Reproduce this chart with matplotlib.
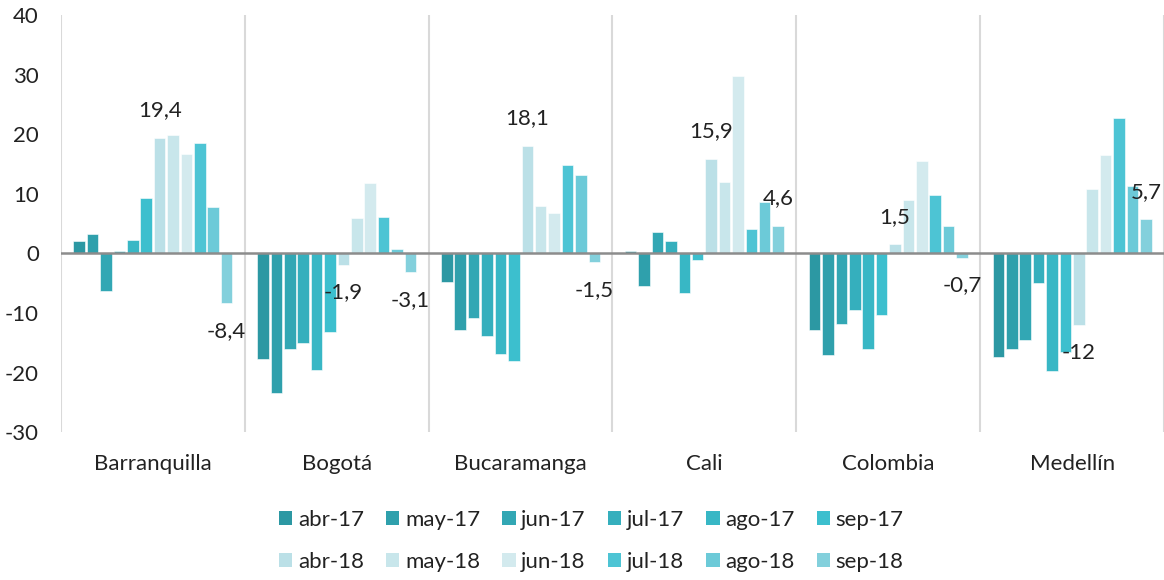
import matplotlib
matplotlib.use("Agg")
import matplotlib.pyplot as plt
from matplotlib.patches import Patch
import numpy as np

plt.rcParams['font.family'] = ['Lato', 'DejaVu Sans']
plt.rcParams['axes.unicode_minus'] = False

# ciudades y series
ciudades = ["Barranquilla", "Bogotá", "Bucaramanga", "Cali", "Colombia", "Medellín"]
series = ["abr-17", "may-17", "jun-17", "jul-17", "ago-17", "sep-17",
          "abr-18", "may-18", "jun-18", "jul-18", "ago-18", "sep-18"]
colores = ["#2C98A3", "#2FA0AC", "#32A7B4", "#35AFBD", "#38B7C5", "#3CBFCE",
           "#BBE0E7", "#C8E6EB", "#D3EAEE", "#4DC4D4", "#6CCAD8", "#83D0DC"]

# valores por ciudad (orden de series)
barranquilla = [2.1, 3.2, -6.3, 0.4, 2.2, 9.3, 19.4, 19.8, 16.7, 18.5, 7.8, -8.4]
bogota = [-17.8, -23.4, -16.0, -15.0, -19.6, -13.2, -1.9, 6.0, 11.8, 6.1, 0.7, -3.1]
bucaramanga = [-4.8, -12.8, -10.8, -13.8, -16.9, -18.0, 18.1, 7.9, 6.7, 14.8, 13.2, -1.5]
cali = [0.4, -5.4, 3.6, 2.1, -6.6, -1.1, 15.9, 12.0, 29.8, 4.1, 8.6, 4.6]
colombia = [-12.9, -17.0, -11.8, -9.5, -16.0, -10.3, 1.5, 9.0, 15.5, 9.8, 4.6, -0.7]
medellin = [-17.4, -16.0, -14.5, -5.0, -19.7, -16.5, -12.0, 10.8, 16.5, 22.7, 11.3, 5.7]

datos = np.array([barranquilla, bogota, bucaramanga, cali, colombia, medellin])
etiquetadas = ["abr-18", "sep-18"]    # series con etiqueta de datos

fig = plt.figure(figsize=(11.64, 5.8), dpi=100)
ax = fig.add_axes([0.0524, 0.255, 0.9476, 0.719])

x = np.arange(len(ciudades))
slot = 0.875 / len(series)
ancho = slot * 0.86
for j, (s, c) in enumerate(zip(series, colores)):
    pos = x + (j - 5.5) * slot
    ax.bar(pos, datos[:, j], width=ancho, color=c, edgecolor="white", linewidth=0.4, zorder=2)
    if s in etiquetadas:
        for xi, v in zip(pos, datos[:, j]):
            txt = f"{v:g}".replace(".", ",")
            off = 20 if v >= 0 else -20
            ax.annotate(txt, (xi, v), xytext=(0, off), textcoords="offset points",
                        ha="center", va="center", fontsize=16, color="#222222", zorder=3)

# separadores de grupos
for b in np.arange(-0.5, len(ciudades), 1.0):
    ax.axvline(b, color="#D9D9D9", lw=1.5, zorder=1)
ax.axhline(0, color="#8C8C8C", lw=1.8, zorder=3)

ax.set_xlim(-0.5, 5.5)
ax.set_ylim(-30, 40)
ax.set_yticks(range(-30, 41, 10))
ax.set_xticks(x)
ax.set_xticklabels(ciudades)
ax.tick_params(axis="both", length=0, labelsize=16, colors="#222222")
ax.tick_params(axis="y", pad=16)
ax.tick_params(axis="x", pad=16)
for sp in ax.spines.values():
    sp.set_visible(False)

# leyenda: fila 1 = 2017, fila 2 = 2018
orden = []
for k in range(6):
    orden += [k, k + 6]
handles = [Patch(facecolor=colores[k], edgecolor="none") for k in orden]
labels = [series[k] for k in orden]
fig.legend(handles, labels, ncol=6, loc="center", bbox_to_anchor=(0.508, 0.067),
           frameon=False, fontsize=16, handlelength=0.6, handleheight=0.6,
           handletextpad=0.25, columnspacing=1.0, labelspacing=1.0,
           labelcolor="#222222")

fig.savefig("out.png", dpi=100)
